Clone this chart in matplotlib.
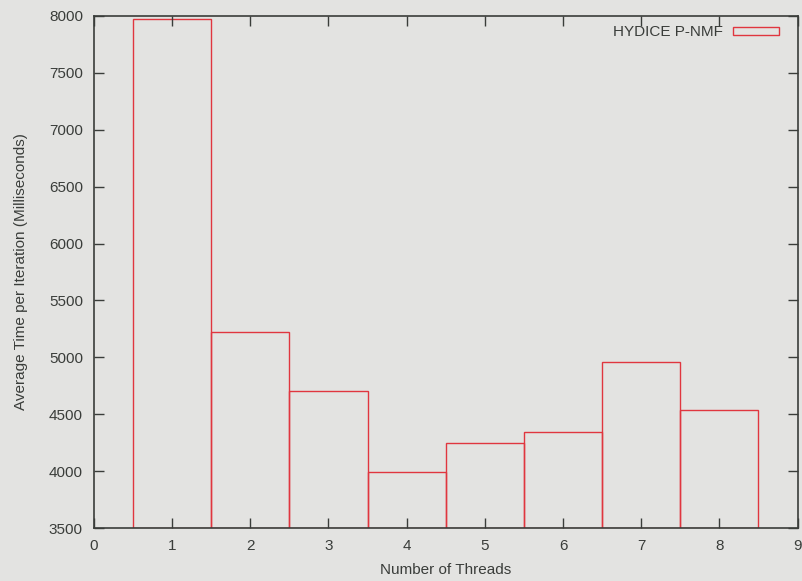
import numpy as np
import matplotlib.pyplot as plt
from matplotlib.patches import Patch

plt.rcParams['font.family'] = ['Liberation Sans', 'DejaVu Sans']

threads = [1, 2, 3, 4, 5, 6, 7, 8]
avg_time = [7970, 5225, 4700, 3988, 4245, 4345, 4958, 4535]

bg = '#e3e3e1'
ink = '#3a3d3a'
red = '#e0363f'

fig = plt.figure(figsize=(8.02, 5.81), dpi=100, facecolor=bg)
ax = fig.add_axes([0.1172, 0.0912, 0.8772, 0.8813])
ax.set_facecolor(bg)

ax.bar(threads, [t - 3500 for t in avg_time], bottom=3500, width=1.0,
       fill=False, edgecolor=red, linewidth=1.0, label='HYDICE P-NMF')

ax.set_xlim(0, 9)
ax.set_ylim(3500, 8000)
ax.set_xticks(range(0, 10))
ax.set_yticks(range(3500, 8001, 500))
ax.tick_params(direction='in', length=7, width=1, colors=ink, labelsize=11,
               top=True, right=True, pad=8)
ax.tick_params(axis='x', labeltop=False)
for s in ax.spines.values():
    s.set_color(ink)
    s.set_linewidth(1.2)

ax.set_xlabel('Number of Threads', fontsize=11, color=ink, labelpad=7)
ax.set_ylabel('Average Time per Iteration (Milliseconds)', fontsize=11,
              color=ink, labelpad=15)

# key sits in the top right corner, sample box after the text
handle = Patch(facecolor='none', edgecolor=red, linewidth=1.0)
leg = ax.legend([handle], ['HYDICE P-NMF'], loc='upper right', frameon=False,
                markerfirst=False, fontsize=11, handlelength=3.0,
                handleheight=0.5, borderaxespad=0, handletextpad=0.7,
                bbox_to_anchor=(0.9827, 0.9935))
for t in leg.get_texts():
    t.set_color(ink)

fig.savefig('out.png', dpi=100, facecolor=bg)
